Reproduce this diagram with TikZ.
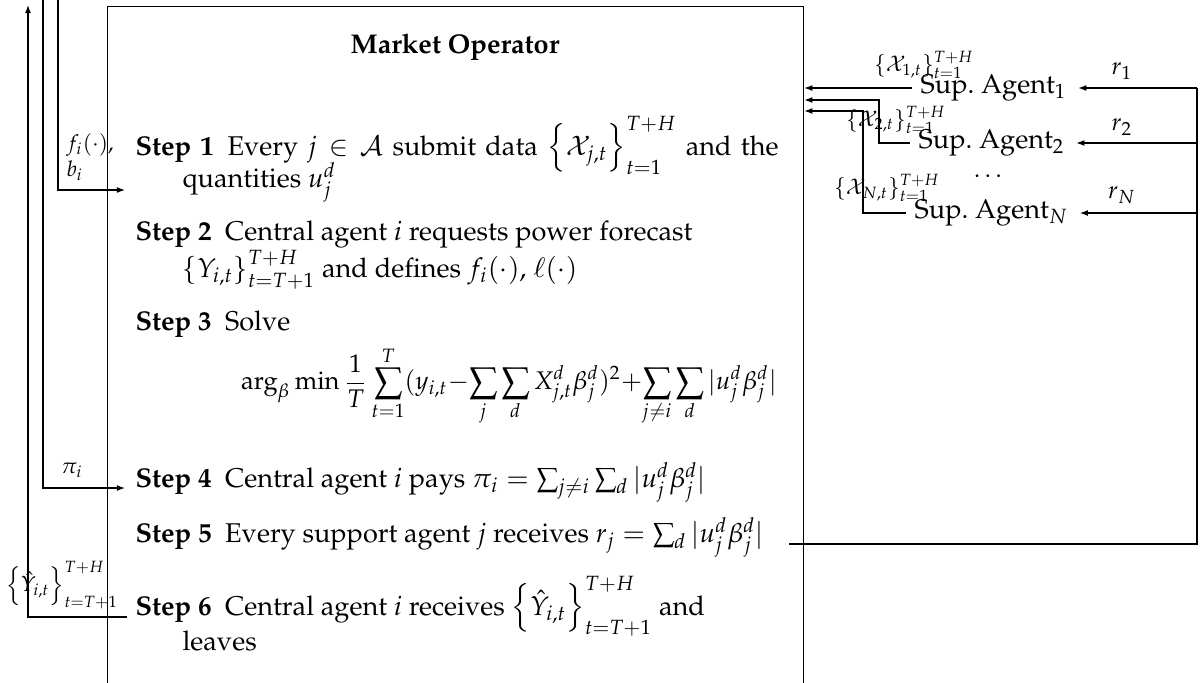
\documentclass[tikz,border=0pt]{standalone}
\usepackage[T1]{fontenc}
\usepackage{mathpazo}
\usepackage{amsmath}
\usetikzlibrary{arrows.meta}
\newlength\pxu
\setlength\pxu{0.3688pt}
\newcommand\stepbox[1]{\begin{minipage}[t]{643\pxu}\hangindent=47\pxu\hangafter=1\relax #1\end{minipage}}
\begin{document}
\begin{tikzpicture}[x=\pxu,y=-\pxu,
  every node/.style={inner sep=0pt},
  conn/.style={line width=0.45pt},
  arr/.style={conn,-{Latex[length=3pt,width=2.2pt]}},
  stepnode/.style={anchor=base west},
  agent/.style={anchor=west,inner xsep=3pt},
  lab/.style={font=\footnotesize},
  rlab/.style={font=\small},
]
\useasboundingbox (0,0) rectangle (1200,682);
\clip (0,0) rectangle (1200,682);
% market operator box
\node[draw,line width=0.45pt,anchor=north west,minimum width=696\pxu,minimum height=720\pxu] (mo) at (107,6) {};
\node[font=\bfseries,anchor=base] (title) at (455,53) {Market Operator};
% steps
\node[stepnode] (s1) at (135,155) {\stepbox{\textbf{Step 1}\enspace Every $j \in \mathcal{A}$ submit data $\smash[b]{\Bigl\{\mathcal{X}_{j,t}\Bigr\}_{t=1}^{T+H}}$ and the\linebreak quantities $u_j^d$}};
\node[stepnode] (s2) at (135,240) {\stepbox{\textbf{Step 2}\enspace Central agent $i$ requests power forecast\newline $\left\{Y_{i,t}\right\}_{t=T+1}^{T+H}$ and defines $f_i(\cdot)$, $\ell(\cdot)$}};
\node[stepnode] (s3) at (135,330) {\stepbox{\textbf{Step 3}\enspace Solve}};
\node[font=\fontsize{9.4}{11}\selectfont] (eq) at (509,386) {$\medmuskip=0mu\displaystyle \arg_\beta \min \frac{1}{T}\sum_{t=1}^{T}(y_{i,t}-\sum_j\sum_d X_{j,t}^d\beta_j^d)^2+\sum_{j\neq i}\sum_d |u_j^d\beta_j^d|$};
\node[stepnode] (s4) at (135,487) {\stepbox{\textbf{Step 4}\enspace Central agent $i$ pays $\pi_i = \sum_{j\neq i}\sum_d |u_j^d\beta_j^d|$}};
\node[stepnode] (s5) at (135,542) {\stepbox{\textbf{Step 5}\enspace Every support agent $j$ receives $r_j = \sum_d |u_j^d\beta_j^d|$}};
\node[stepnode] (s6) at (135,615) {\stepbox{\textbf{Step 6}\enspace Central agent $i$ receives $\Bigl\{\hat{Y}_{i,t}\Bigr\}_{t=T+1}^{T+H}$ and\\[-8\pxu] leaves}};
% support agents
\node[agent] (a1) at (912,88) {Sup.\ Agent$_1$};
\node[agent] (a2) at (910,143) {Sup.\ Agent$_2$};
\node[agent] (aN) at (906,213) {Sup.\ Agent$_N$};
\node[rlab] (dots) at (990,176) {$\dots$};
% labels
\node[lab] (lx1) at (924,65) {$\{\mathcal{X}_{1,t}\}_{t=1}^{T+H}$};
\node[lab] (lx2) at (896,120) {$\{\mathcal{X}_{2,t}\}_{t=1}^{T+H}$};
\node[lab] (lxN) at (887,188) {$\{\mathcal{X}_{N,t}\}_{t=1}^{T+H}$};
\node[rlab] (lr1) at (1122,71) {$r_1$};
\node[rlab] (lr2) at (1122,127) {$r_2$};
\node[rlab] (lrN) at (1122,195) {$r_N$};
\node[lab,align=left,anchor=north west] (lf) at (66,133) {$f_i(\cdot)$,\\ $b_i$};
\node[lab] (lpi) at (72,470) {$\pi_i$};
\node[lab] (ly) at (62,585) {$\Bigl\{\hat{Y}_{i,t}\Bigr\}_{t=T+1}^{T+H}$};
% coordinates
\coordinate (t28) at (28,5);
\coordinate (t43) at (43,-5);
\coordinate (t58) at (58,-5);
\coordinate (s2in) at (125,190);
\coordinate (s4in) at (125,488);
\coordinate (s6out) at (127,617);
\coordinate (s5out) at (789,544);
\coordinate (rtop) at (1197,88);
\coordinate (x2c) at (879,100);
\coordinate (xNc) at (863,111);
% left connectors
\draw[arr] (t58) |- (s2in);
\draw[arr] (t43) |- (s4in);
\draw[arr] (s6out) -| (t28);
% right connectors
\draw[conn] (s5out) -| (rtop);
\draw[arr] (rtop) -- ([xshift=3\pxu]a1.east);
\draw[arr] (rtop |- a2.east) -- ([xshift=3\pxu]a2.east);
\draw[arr] (rtop |- aN.east) -- ([xshift=3\pxu]aN.east);
\draw[arr] (a1.west) -- (a1.west -| mo.east);
\draw[arr] (a2.west) -| (x2c) -- (x2c -| mo.east);
\draw[arr] (aN.west) -| (xNc) -- (xNc -| mo.east);
\end{tikzpicture}
\end{document}
